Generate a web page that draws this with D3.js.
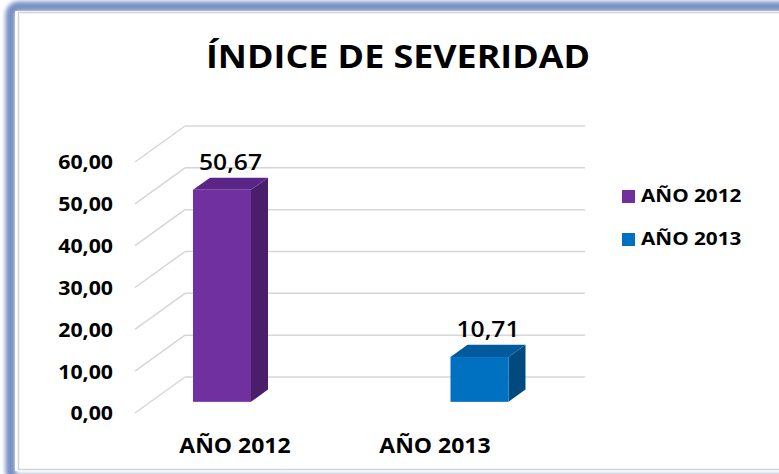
<!DOCTYPE html>
<html>
<head>
<meta charset="utf-8">
<script src="https://cdn.jsdelivr.net/npm/d3@7/dist/d3.min.js"></script>
<style>
  html, body { margin: 0; padding: 0; background: #fff; }
  svg { display: block; }
  text { font-family: "Open Sans", "Noto Sans", sans-serif; fill: #000; }
</style>
</head>
<body>
<svg id="chart" width="779" height="474"></svg>
<script>
// ---- data ----
const title = "ÍNDICE DE SEVERIDAD";
const categories = ["AÑO 2012", "AÑO 2013"];
const values = [50.67, 10.71];
const seriesColors = ["#7030A0", "#0070C0"];
const sideColors = ["#4B1E6C", "#004A80"];
const topColors = ["#5B2587", "#005A9C"];
const yTicks = [0, 10, 20, 30, 40, 50, 60];

// ---- layout ----
const W = 779, H = 474;
const stretch = 1.12;
const depthX = 50, depthY = -36;      // full floor depth
const barF0 = 0.31, barF1 = 0.65;     // bar depth fractions
const barW = 58;

const svg = d3.select("#chart");
const locale = d3.formatLocale({decimal: ",", thousands: ".", grouping: [3], currency: ["", "€"]});
const fmt = locale.format(".2f");

function stretchText(sel) {
  sel.each(function () {
    const l = this.getComputedTextLength();
    d3.select(this).attr("textLength", l * stretch).attr("lengthAdjust", "spacingAndGlyphs");
  });
}

// frame
const defs = svg.append("defs");
defs.append("filter").attr("id", "blur").attr("x", "-5%").attr("y", "-5%").attr("width", "110%").attr("height", "110%")
  .append("feGaussianBlur").attr("stdDeviation", 2.2);
svg.append("rect").attr("x", 10.5).attr("y", 6.5).attr("width", 820).attr("height", 473)
  .attr("rx", 8).attr("fill", "none").attr("stroke", "#7890C2").attr("stroke-width", 10)
  .attr("filter", "url(#blur)");
svg.append("rect").attr("x", 15).attr("y", 11).attr("width", 820).attr("height", 460)
  .attr("fill", "#fff");
svg.append("rect").attr("x", 18.5).attr("y", 12.5).attr("width", 820).attr("height", 457)
  .attr("fill", "none").attr("stroke", "#d2d2d2").attr("stroke-width", 1.5);

// scales
const y = d3.scaleLinear().domain([0, 60]).range([413, 162]);
const xPlane = d3.scaleBand().domain(categories).range([135, 535]);
const xBar = d3.scalePoint().domain(categories).range([206.5, 464]);

// gridlines: side diagonal + back wall
const grid = svg.append("g").attr("stroke", "#d6d6d6").attr("stroke-width", 1.5).attr("fill", "none");
grid.selectAll("line.diag").data(yTicks).join("line").attr("class", "diag")
  .attr("x1", xPlane.range()[0]).attr("y1", d => y(d))
  .attr("x2", xPlane.range()[0] + depthX).attr("y2", d => y(d) + depthY);
grid.selectAll("line.back").data(yTicks).join("line").attr("class", "back")
  .attr("x1", xPlane.range()[0] + depthX).attr("y1", d => y(d) + depthY)
  .attr("x2", xPlane.range()[1] + depthX).attr("y2", d => y(d) + depthY);

// y axis labels
const yAxis = d3.axisLeft(y).tickValues(yTicks).tickFormat(fmt).tickSize(0).tickPadding(0);
const gy = svg.append("g").attr("transform", "translate(113,0)").call(yAxis);
gy.select(".domain").remove();
gy.selectAll("text").attr("font-size", 19).attr("font-weight", "bold")
  .attr("font-family", "'Open Sans', sans-serif").attr("fill", "#000").attr("dy", "0.36em");
gy.selectAll("text").call(stretchText);

// bars
const data = categories.map((c, i) => ({c, v: values[i], i}));
const bars = svg.append("g").selectAll("g").data(data).join("g");
function pts(arr) { return arr.map(p => p.join(",")).join(" "); }
bars.each(function (d) {
  const g = d3.select(this);
  const ox0 = depthX * barF0, oy0 = depthY * barF0;
  const ox1 = depthX * barF1, oy1 = depthY * barF1;
  const dx = ox1 - ox0, dy = oy1 - oy0;
  const x0 = xBar(d.c) - barW / 2 + ox0, x1 = x0 + barW;
  const yb = y(0) + oy0, yt = y(d.v) + oy0;
  g.append("polygon").attr("points", pts([[x1, yt], [x1 + dx, yt + dy], [x1 + dx, yb + dy], [x1, yb]]))
    .attr("fill", sideColors[d.i]);
  g.append("polygon").attr("points", pts([[x0, yt], [x0 + dx, yt + dy], [x1 + dx, yt + dy], [x1, yt]]))
    .attr("fill", topColors[d.i]);
  g.append("rect").attr("x", x0).attr("y", yt).attr("width", barW).attr("height", yb - yt)
    .attr("fill", seriesColors[d.i]);
  g.append("text").attr("x", (x0 + x1 + dx) / 2).attr("y", yt + dy - 8)
    .attr("text-anchor", "middle").attr("font-size", 22).attr("font-weight", 600).text(fmt(d.v));
});
bars.selectAll("text").call(stretchText);

// x labels
svg.append("g").selectAll("text").data(categories).join("text")
  .attr("x", d => xPlane(d) + xPlane.bandwidth() / 2).attr("y", 453)
  .attr("text-anchor", "middle").attr("font-size", 20.5).attr("font-weight", "bold")
  .text(d => d).call(stretchText);

// title
svg.append("text").attr("x", 398).attr("y", 68).attr("text-anchor", "middle")
  .attr("font-size", 32).attr("font-weight", "bold").text(title).call(stretchText);

// legend
const leg = svg.append("g").attr("transform", "translate(622,190)");
const li = leg.selectAll("g").data(categories).join("g").attr("transform", (d, i) => `translate(0,${i * 43})`);
li.append("rect").attr("width", 13).attr("height", 13).attr("fill", (d, i) => seriesColors[i]);
li.append("text").attr("x", 19).attr("y", 12).attr("font-size", 18.5).attr("font-weight", "bold")
  .text(d => d).call(stretchText);
</script>
</body>
</html>
